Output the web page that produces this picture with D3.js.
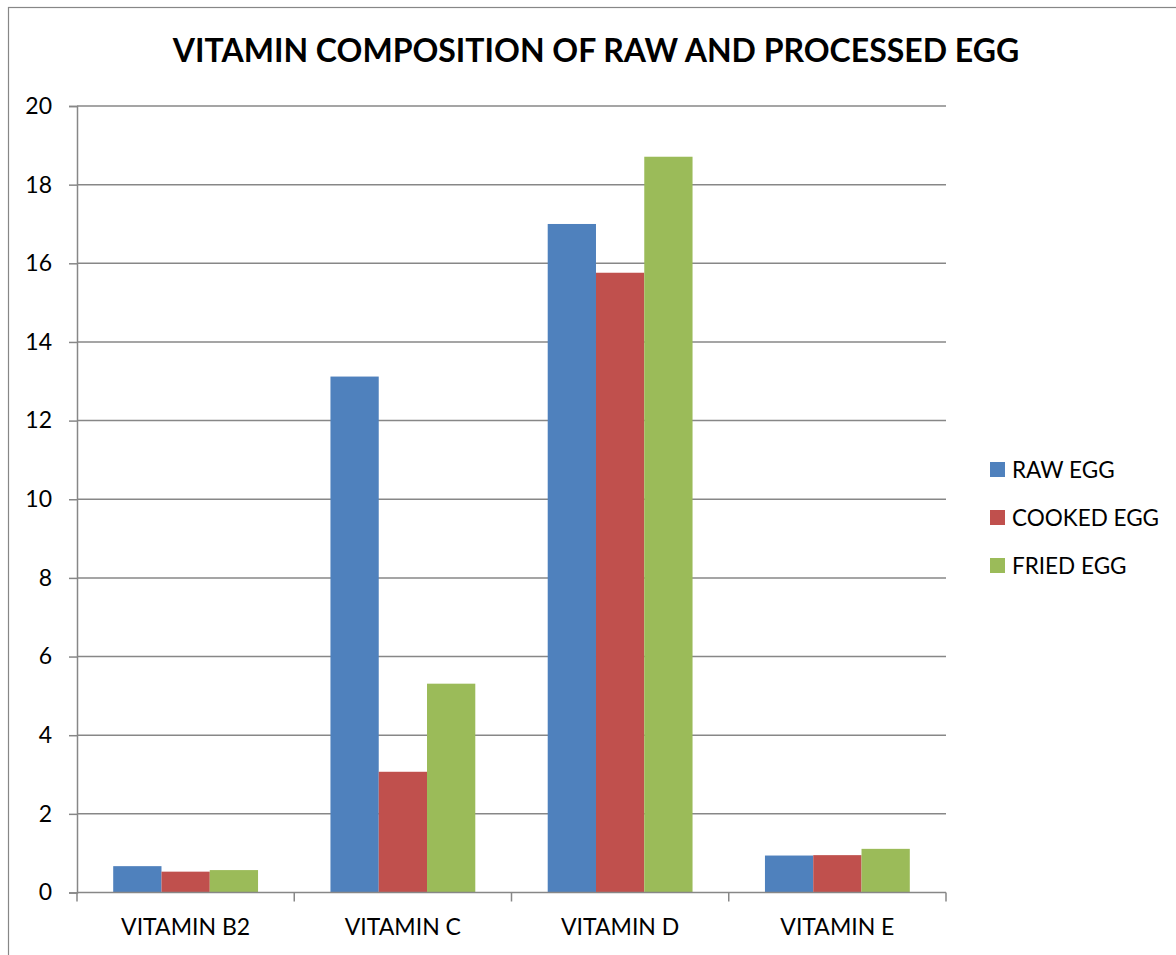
<!DOCTYPE html>
<html><head><meta charset="utf-8">
<script src="https://cdn.jsdelivr.net/npm/d3@7"></script>
<style>body{margin:0;background:#fff}svg{display:block}text{font-family:Lato,"Open Sans",sans-serif;fill:#000}</style>
</head><body><svg id="c" width="1176" height="955"></svg>
<script>
const title = "VITAMIN COMPOSITION OF RAW AND PROCESSED EGG";
const categories = ["VITAMIN B2","VITAMIN C","VITAMIN D","VITAMIN E"];
const seriesNames = ["RAW EGG","COOKED EGG","FRIED EGG"];
const rawEgg = [0.67, 13.12, 17.0, 0.94];
const cookedEgg = [0.53, 3.07, 15.76, 0.95];
const friedEgg = [0.57, 5.31, 18.71, 1.11];
const yTicks = [0,2,4,6,8,10,12,14,16,18,20];
const colors = ["#4F81BD","#C0504D","#9BBB59"];
const seriesValues = [rawEgg, cookedEgg, friedEgg];

const svg = d3.select("#c");
const L = 77, R = 946, T = 106, B = 892.5;
const grid = "#878787";

svg.append("rect").attr("x",8.5).attr("y",7.5).attr("width",1300).attr("height",1100)
  .attr("fill","none").attr("stroke",grid).attr("stroke-width",1.2);

const x0 = d3.scaleBand().domain(categories).range([L,R]).paddingInner(0).paddingOuter(0);
const x1 = d3.scaleBand().domain(seriesNames).range([0,x0.bandwidth()]).paddingInner(0).paddingOuter(0.75);
const y = d3.scaleLinear().domain([0,20]).range([B,T]);

// gridlines
svg.append("g").selectAll("line").data(yTicks.filter(d=>d>0)).join("line")
  .attr("x1",L).attr("x2",R).attr("y1",d=>y(d)).attr("y2",d=>y(d))
  .attr("stroke",grid).attr("stroke-width",1.5);

// bars
const g = svg.append("g");
categories.forEach((c,i)=>{
  seriesNames.forEach((s,j)=>{
    const v = seriesValues[j][i];
    g.append("rect").attr("x",x0(c)+x1(s)).attr("width",x1.bandwidth())
      .attr("y",y(v)).attr("height",B-y(v)).attr("fill",colors[j]);
  });
});

// y axis
const ya = svg.append("g").attr("transform",`translate(${L},0)`)
  .call(d3.axisLeft(y).tickValues(yTicks).tickSize(8).tickPadding(17).tickFormat(d3.format("d")));
ya.select(".domain").attr("stroke",grid).attr("stroke-width",1.5);
ya.selectAll(".tick line").attr("stroke",grid).attr("stroke-width",1.5);
ya.selectAll("text").style("font-size","23px").style("font-family","Lato, sans-serif").attr("fill","#000");

// x axis
const xa = svg.append("g").attr("transform",`translate(0,${B})`);
xa.append("line").attr("x1",L).attr("x2",R).attr("stroke",grid).attr("stroke-width",1.5);
const bounds = categories.map(c=>x0(c)).concat([R]);
xa.selectAll("line.t").data(bounds).join("line").attr("class","t")
  .attr("x1",d=>d).attr("x2",d=>d).attr("y1",0).attr("y2",9).attr("stroke",grid).attr("stroke-width",1.5);
xa.selectAll("text").data(categories).join("text")
  .attr("x",d=>x0(d)+x0.bandwidth()/2).attr("y",42).attr("text-anchor","middle")
  .style("font-size","23px").text(d=>d);

// title
svg.append("text").attr("x",596).attr("y",62).attr("text-anchor","middle")
  .style("font-size","32px").style("font-weight","bold").text(title);

// legend
const lg = svg.append("g");
seriesNames.forEach((s,j)=>{
  const cy = 470 + j*48;
  lg.append("rect").attr("x",990).attr("y",cy-8).attr("width",15).attr("height",15).attr("fill",colors[j]);
  lg.append("text").attr("x",1012).attr("y",cy+8).style("font-size","22.5px").text(s);
});
</script></body></html>
